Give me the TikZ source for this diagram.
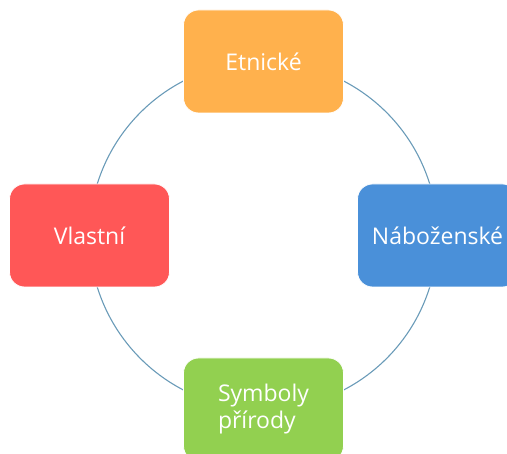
\documentclass[tikz,border=0pt]{standalone}
\usepackage{fontspec}
\setmainfont{Open Sans}
\begin{document}
\begin{tikzpicture}[x=1pt,y=-1pt,
  box/.style={draw=white, line width=0.8pt, rounded corners=15pt, minimum width=160pt, minimum height=103pt, inner sep=0pt, text=white, font=\fontsize{23}{27}\selectfont},
  ring/.style={draw=ringc, line width=1.1pt}]
\definecolor{ringc}{HTML}{6A9BB8}
\definecolor{orng}{HTML}{FFB14D}
\definecolor{redb}{HTML}{FF5757}
\definecolor{blub}{HTML}{4A90D9}
\definecolor{grnb}{HTML}{92D050}
\useasboundingbox (0,0) rectangle (507,454);
\clip (0,0) rectangle (507,454);
\coordinate (c) at (263.5,235.5);
\draw[ring] (c) circle[radius=174pt];
\node[box, fill=orng] (et) at (263.5,61.5) {Etnické};
\node[box, fill=redb] (vl) at (89.5,235.5) {Vlastní};
\node[box, fill=blub] (na) at (437.5,235.5) {Náboženské};
\node[box, fill=grnb, align=left] (sy) at (263.5,409.5) {Symboly\\přírody};
\end{tikzpicture}
\end{document}
